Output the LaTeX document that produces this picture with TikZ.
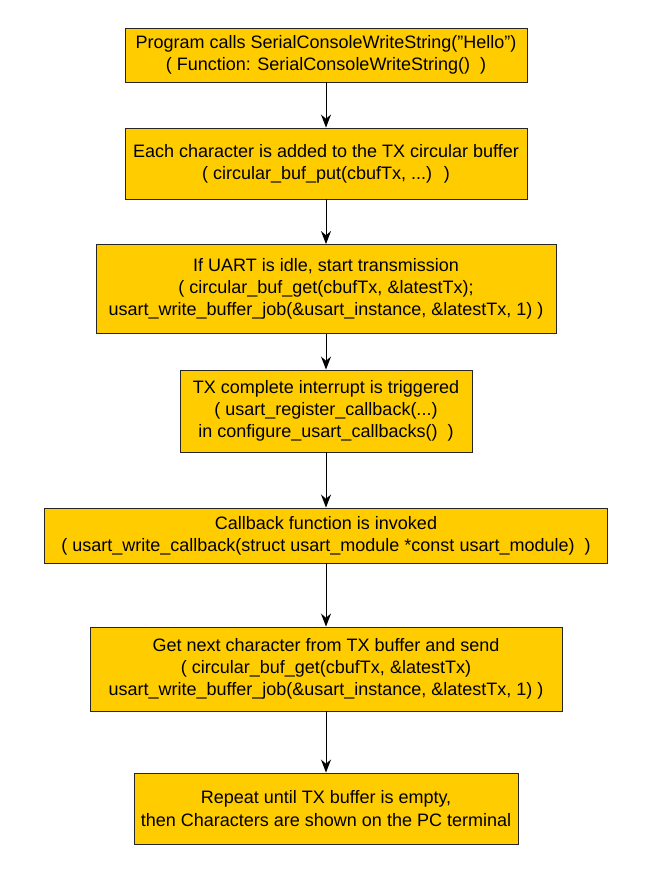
\documentclass[tikz,border=0pt]{standalone}
\usepackage{fontspec}
\setmainfont{Liberation Sans}[Ligatures=ResetAll]
\usetikzlibrary{arrows.meta}
\definecolor{stagefill}{HTML}{FFCC00}

\begin{document}
\begin{tikzpicture}[x=1pt,y=-1pt,
    stage/.style={draw=black!85,line width=0.9pt,fill=stagefill,align=center,inner sep=0pt,
      font=\fontsize{18}{22.3}\selectfont},
    flow/.style={-{Stealth[length=13pt,width=10pt]},line width=1pt}]
  \useasboundingbox (0,0) rectangle (646,886);
  \node[stage,minimum width=402,minimum height=54] (call) at (326,55)
    {Program calls SerialConsoleWriteString("Hello")\\( Function: SerialConsoleWriteString()~ )};
  \node[stage,minimum width=402,minimum height=71] (put) at (326,163.5)
    {Each character is added to the TX circular buffer\\( circular\_buf\_put(cbufTx, ...)~ )};
  \node[stage,minimum width=460,minimum height=89] (idle) at (326,289)
    {If UART is idle, start transmission\\( circular\_buf\_get(cbufTx, \&latestTx);\\usart\_write\_buffer\_job(\&usart\_instance, \&latestTx, 1) )};
  \node[stage,minimum width=292,minimum height=82] (irq) at (326,411)
    {TX complete interrupt is triggered\\( usart\_register\_callback(...)\\in configure\_usart\_callbacks()~ )};
  \node[stage,minimum width=563,minimum height=55] (cb) at (326,535.5)
    {Callback function is invoked\\( usart\_write\_callback(struct usart\_module *const usart\_module)~ )};
  \node[stage,minimum width=472,minimum height=84] (next) at (326,669)
    {Get next character from TX buffer and send\\( circular\_buf\_get(cbufTx, \&latestTx)\\usart\_write\_buffer\_job(\&usart\_instance, \&latestTx, 1) )};
  \node[stage,minimum width=384,minimum height=71] (done) at (326,808.5)
    {Repeat until TX buffer is empty,\\then Characters are shown on the PC terminal};
  % arrows
  \foreach \a/\b in {call/put,put/idle,idle/irq,irq/cb,cb/next,next/done}
    \draw[flow] (\a) -- (\b);
\end{tikzpicture}
\end{document}
